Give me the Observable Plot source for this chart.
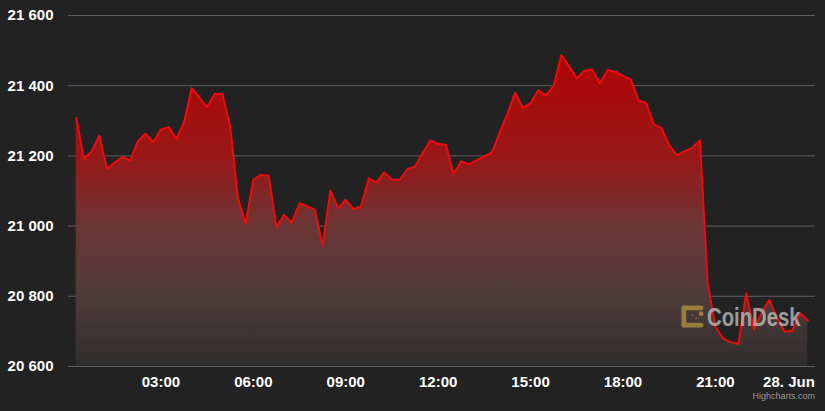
<!DOCTYPE html>
<html>
<head>
<meta charset="utf-8">
<script src="https://cdn.jsdelivr.net/npm/d3@7"></script>
<script src="https://cdn.jsdelivr.net/npm/@observablehq/plot@0.6"></script>
<style>
  body { margin: 0; background: #222222; }
  #chart { position: relative; width: 825px; height: 411px; background: #222222; }
  #chart svg { display: block; }
  .mark-logo { position: absolute; left: 681px; top: 304px; height: 26px; opacity: 0.75; pointer-events: none; }
  .mark-logo svg { position: absolute; left: 0; top: 1px; }
  .mark-logo span { position: absolute; left: 26px; top: -2px; white-space: nowrap; font: bold 26px "Liberation Sans", Arial, sans-serif; color: #c4c4c4; transform: scaleX(0.78); transform-origin: left center; }
  .credit { position: absolute; right: 10px; top: 391px; font: 9px "Liberation Sans", Arial, sans-serif; color: #999; }
</style>
</head>
<body>
<div id="chart"></div>
<script>
// BTC price, 15 minute steps from 00:15 to 24:00
var prices = [
  21308, 21191, 21213, 21257, 21163, 21181, 21197, 21187, 21241, 21263, 21239, 21275,
  21282, 21249, 21295, 21393, 21366, 21339, 21377, 21376, 21284, 21080, 21007, 21132,
  21146, 21143, 20997, 21032, 21010, 21065, 21056, 21047, 20943, 21101, 21051, 21075,
  21048, 21057, 21136, 21124, 21153, 21132, 21132, 21162, 21170, 21208, 21244, 21234,
  21232, 21149, 21185, 21176, 21188, 21198, 21211, 21266, 21320, 21380, 21337, 21350,
  21387, 21373, 21399, 21487, 21455, 21421, 21442, 21447, 21406, 21445, 21440, 21428,
  21418, 21358, 21351, 21290, 21280, 21230, 21202, 21213, 21223, 21244, 20837, 20714,
  20680, 20669, 20664, 20809, 20706, 20752, 20790, 20739, 20699, 20702, 20752, 20731
];
var startHour = 0.25;
var stepHours = 0.25;

var hourTicks = [3, 6, 9, 12, 15, 18, 21];
var hourLabels = ["03:00", "06:00", "09:00", "12:00", "15:00", "18:00", "21:00"];
var dayTick = [24];
var dayLabel = "28. Jun";
var priceTicks = [20600, 20800, 21000, 21200, 21400, 21600];

var data = prices.map(function (p, i) { return { hour: startHour + i * stepHours, price: p }; });

var fmt = function (d) { return d3.format(",")(d).replace(",", " "); };
var font = "Liberation Sans, Arial, sans-serif";

var chart = Plot.plot({
  width: 825,
  height: 411,
  marginLeft: 68,
  marginRight: 10,
  marginTop: 15,
  marginBottom: 45,
  style: { background: "transparent", color: "#ffffff", fontFamily: font },
  x: { domain: [0, 24.25] },
  y: { domain: [20600, 21600] },
  marks: [
    Plot.gridY(priceTicks, { stroke: "#5e5e5e", strokeOpacity: 1 }),
    Plot.areaY(data, { x: "hour", y1: 20600, y2: "price", fill: "url(#priceFill)" }),
    Plot.lineY(data, { x: "hour", y: "price", stroke: "#f00a0a", strokeWidth: 2 }),
    Plot.axisY(priceTicks, {
      tickSize: 0, tickPadding: 15, tickFormat: fmt,
      fontSize: 15, fontWeight: "bold", fill: "#ffffff", label: null
    }),
    Plot.axisX(hourTicks, {
      tickSize: 0, tickPadding: 10,
      tickFormat: function (d) { return hourLabels[hourTicks.indexOf(d)]; },
      fontSize: 15, fontWeight: "bold", fill: "#ffffff", label: null
    }),
    Plot.axisX(dayTick, {
      tickSize: 0, tickPadding: 10, textAnchor: "end", dx: 7,
      tickFormat: function () { return dayLabel; },
      fontSize: 15, fontWeight: "bold", fill: "#ffffff", label: null
    })
  ]
});

var defs = d3.select(chart).insert("defs", ":first-child");
var grad = defs.append("linearGradient")
  .attr("id", "priceFill").attr("x1", 0).attr("y1", 0).attr("x2", 0).attr("y2", 1);
[
  [0, "#b20606"], [0.1, "#a90a0a"], [0.33, "#981818"],
  [0.55, "#6c3535"], [0.78, "#4e3c3c"], [1, "#2f2d2d"]
].forEach(function (s) {
  grad.append("stop").attr("offset", s[0]).attr("stop-color", s[1]);
});

var holder = document.getElementById("chart");
holder.appendChild(chart);

// watermark and credit
var logo = document.createElement("div");
logo.className = "mark-logo";
logo.innerHTML =
  '<svg width="23" height="23" viewBox="0 0 24 24">' +
  '<g fill="#b8953c">' +
  '<rect x="0.5" y="0.5" width="5" height="23" rx="2.5"/>' +
  '<rect x="0.5" y="0.5" width="23" height="5" rx="2.5"/>' +
  '<rect x="0.5" y="18.5" width="23" height="5" rx="2.5"/>' +
  '<circle cx="21" cy="9" r="2.4"/>' +
  '<circle cx="12" cy="11" r="1.1" opacity="0.6"/><circle cx="16" cy="14" r="1.1" opacity="0.6"/>' +
  '</g></svg><span>CoinDesk</span>';
holder.appendChild(logo);

var credit = document.createElement("div");
credit.className = "credit";
credit.textContent = "Highcharts.com";
holder.appendChild(credit);
</script>
</body>
</html>
